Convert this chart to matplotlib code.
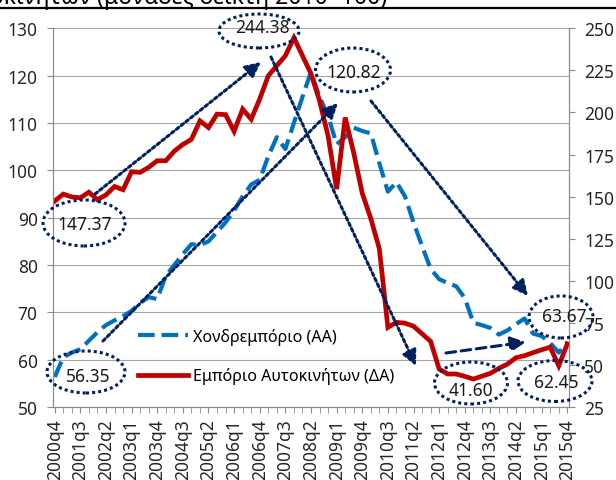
import matplotlib
matplotlib.use('Agg')
import matplotlib.pyplot as plt
from matplotlib.patches import Ellipse, FancyArrowPatch
from matplotlib.lines import Line2D

plt.rcParams['font.family'] = ['Noto Sans', 'DejaVu Sans']
plt.rcParams['lines.scale_dashes'] = False

# quarters 2000q4 .. 2015q4
quarters = ['2000q4'] + [f'{y}q{q}' for y in range(2001, 2016) for q in range(1, 5)]

# Χονδρεμπόριο (left axis)
wholesale = [56.35, 60.5, 61.5, 62.2, 64.0, 65.8, 67.3, 68.3, 69.2, 70.3,
             72.0, 73.2, 72.8, 77.7, 80.0, 82.3, 84.4, 84.2, 85.0, 87.0,
             89.0, 91.5, 94.5, 97.0, 98.0, 103.0, 107.0, 104.5, 110.0, 115.5,
             120.82, 115.5, 111.5, 105.5, 107.0, 109.0, 108.3, 107.8, 101.5, 95.5,
             97.5, 94.5, 89.0, 84.0, 79.2, 77.0, 76.2, 75.5, 73.0, 67.8,
             67.3, 66.7, 65.3, 66.2, 67.5, 68.7, 65.5, 65.0, 63.5, 61.5,
             63.67]

# Εμπόριο Αυτοκινήτων (right axis)
cars = [147.37, 151.5, 149.8, 149.3, 152.6, 148.2, 151.0, 156.0, 154.1, 164.8,
        164.4, 167.4, 171.3, 171.3, 177.0, 181.0, 184.0, 195.0, 191.0, 199.0,
        198.7, 188.8, 202.0, 196.0, 208.0, 221.8, 227.8, 233.7, 244.38, 233.7,
        223.0, 207.0, 186.0, 154.5, 197.0, 176.0, 152.0, 137.0, 119.0, 72.3,
        75.3, 74.8, 73.0, 68.5, 64.0, 47.6, 44.6, 44.6, 43.2, 41.60,
        43.3, 45.0, 48.0, 50.5, 54.3, 55.5, 57.3, 59.0, 60.5, 49.5,
        62.45]

labels = ['Χονδρεμπόριο (ΑΑ)', 'Εμπόριο Αυτοκινήτων (ΔΑ)']
title = ('Διάγραμμα: Κύκλος εργασιών στο Χονδρεμπόριο και στο Εμπόριο '
         'Αυτοκινήτων (μονάδες δείκτη 2010=100)')

# callouts: text, ellipse centre/size (px), text pos (px)
callouts = [
    ('244.38', (259, 32), (80, 34), (262, 28)),
    ('120.82', (353, 71), (75, 44), (354, 73)),
    ('147.37', (84, 224), (82, 46), (85, 225)),
    ('56.35', (86, 373), (78, 42), (88, 377)),
    ('41.60', (471, 384), (73, 42), (471, 391)),
    ('62.45', (555, 382), (74, 41), (556, 383)),
    ('63.67', (561, 318), (64, 42), (564, 317)),
]
dotted_arrows = [((95, 195), (261, 63)), ((271, 58), (416, 367)),
                 ((103, 342), (338, 104)), ((371, 102), (528, 297))]
dashed_arrow = ((446, 354), (526, 343))

W, H = 616, 481
navy = '#002060'
blue = '#0070C0'
red = '#C00000'
gray = '#8C8C8C'
txt = '#262626'


def px(x, y):
    return (x / W, 1 - y / H)


fig = plt.figure(figsize=(W / 100, H / 100), dpi=100)
ax = fig.add_axes([53 / W, 1 - 408 / H, (569 - 53) / W, (408 - 29.3) / H])
ax2 = ax.twinx()

x = list(range(len(quarters)))
ax.plot(x, wholesale, color=blue, lw=3, dashes=(12, 5), solid_capstyle='butt',
        dash_capstyle='butt')
ax2.plot(x, cars, color=red, lw=3.4, solid_joinstyle='miter')

ax.set_ylim(50, 130)
ax.set_yticks(range(50, 131, 10))
ax2.set_ylim(25, 250)
ax2.set_yticks(range(25, 251, 25))
ax.set_xlim(-0.2, 60.2)
ax.set_xticks(x[::3])
ax.set_xticklabels(quarters[::3], rotation=90)
ax.set_xticks(x, minor=True)

ax.grid(axis='y', color='#A6A6A6', lw=0.8)
ax.set_axisbelow(True)
for a in (ax, ax2):
    a.spines['top'].set_visible(False)
    for s in ('left', 'right', 'bottom'):
        a.spines[s].set_color(gray)
        a.spines[s].set_linewidth(0.8)
ax.tick_params(axis='y', which='major', length=4, color=gray, labelsize=12.5,
               labelcolor=txt, pad=7)
ax2.tick_params(axis='y', which='major', length=4, color=gray, labelsize=12.5,
                labelcolor=txt, pad=7)
ax.tick_params(axis='x', which='both', length=4, color=gray, labelsize=12.5,
               labelcolor=txt, pad=4)

handles = [Line2D([], [], color=blue, lw=3, dashes=(12, 5)),
           Line2D([], [], color=red, lw=3.4)]
ax2.legend(handles, labels, loc='center left', bbox_to_anchor=px(138, 357),
           bbox_transform=fig.transFigure, frameon=False, fontsize=11.6,
           handlelength=3.1, handletextpad=0.3, labelspacing=1.4,
           borderpad=0, borderaxespad=0)

dot = (0, (2.2, 2.2))
for s, c, size, t in callouts:
    e = Ellipse(px(*c), size[0] / W, size[1] / H, transform=fig.transFigure,
                fill=False, ec=navy, lw=2.2, ls=dot, clip_on=False)
    fig.add_artist(e)
    fig.text(*px(*t), s, ha='center', va='center', fontsize=12.5,
             fontweight='bold', color='#1a1a1a')

for a, b in dotted_arrows:
    arr = FancyArrowPatch(px(*a), px(*b), transform=fig.transFigure,
                          arrowstyle='-|>,head_length=0.45,head_width=0.22',
                          mutation_scale=20, color=navy, lw=2.2, ls=dot,
                          shrinkA=0, shrinkB=0)
    fig.add_artist(arr)
arr = FancyArrowPatch(px(*dashed_arrow[0]), px(*dashed_arrow[1]),
                      transform=fig.transFigure,
                      arrowstyle='-|>,head_length=0.45,head_width=0.22',
                      mutation_scale=20, color=navy, lw=2.2, ls=(0, (7, 4)),
                      shrinkA=0, shrinkB=0)
fig.add_artist(arr)

# title cut off at the top, with the rule under it
fig.text(*px(387, 4), title, ha='right', va='baseline', fontsize=16.5,
         color='black')
fig.add_artist(Line2D([0, 1], [1 - 8.5 / H] * 2, transform=fig.transFigure,
                      color='black', lw=1.6))

fig.savefig('out.png', dpi=100)
